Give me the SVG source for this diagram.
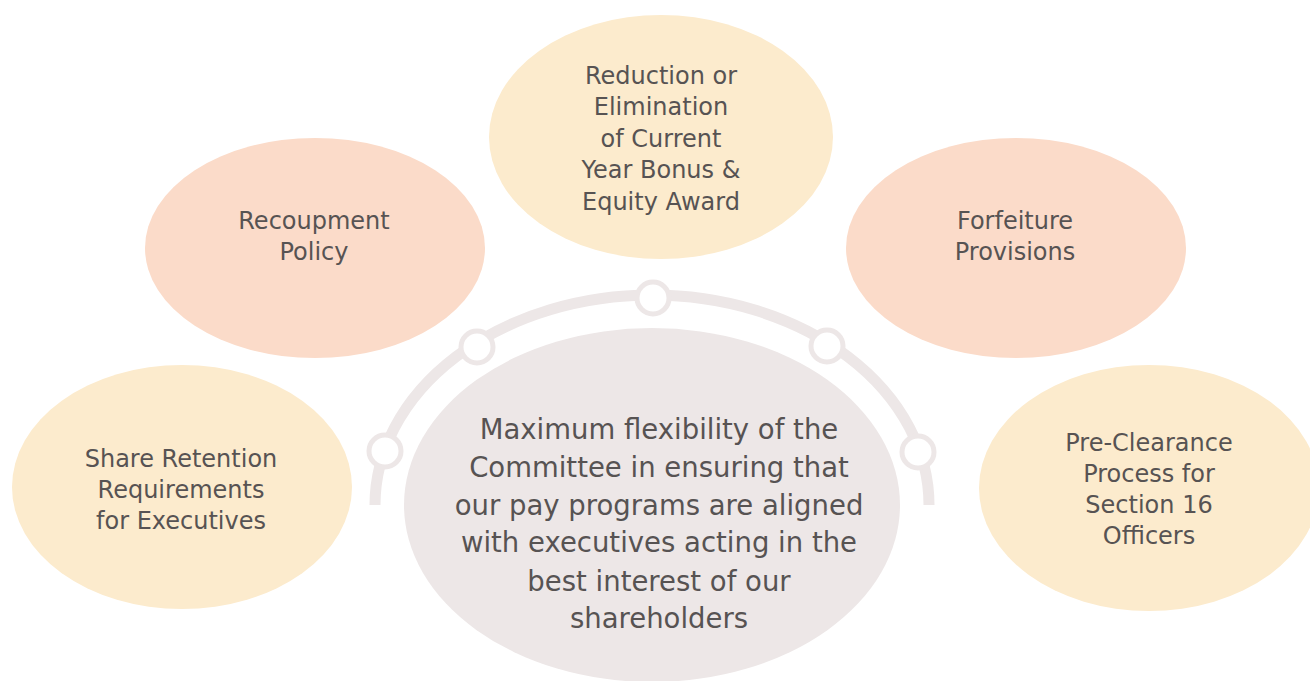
<svg xmlns="http://www.w3.org/2000/svg" width="1310" height="681" viewBox="0 0 1310 681">
<style>
.yellow{fill:#fcebcd}
.peach{fill:#fbdbc9}
.gray{fill:#ede7e7}
.lbl{font-family:"DejaVu Sans",sans-serif;font-size:24px;fill:#575353;text-anchor:middle}
.big{font-size:27.5px}
.ring{fill:#ffffff;stroke:#ede7e7;stroke-width:5}
</style>
<rect width="1310" height="681" fill="#ffffff"/>
<g id="connectors">
<path d="M 375,505 A 277 210 0 0 1 929,505" fill="none" stroke="#ede7e7" stroke-width="11"/>
<circle class="ring" cx="385" cy="451" r="16"/>
<circle class="ring" cx="477" cy="347" r="16"/>
<circle class="ring" cx="653" cy="298" r="16"/>
<circle class="ring" cx="827" cy="346" r="16"/>
<circle class="ring" cx="918" cy="452" r="16"/>
</g>
<g id="node-reduction">
<ellipse class="yellow" cx="661" cy="137" rx="172" ry="122"/>
<text class="lbl"><tspan x="661" y="84">Reduction or</tspan><tspan x="661" y="115">Elimination</tspan><tspan x="661" y="147">of Current</tspan><tspan x="661" y="178">Year Bonus &amp;</tspan><tspan x="661" y="210">Equity Award</tspan></text>
</g>
<g id="node-recoupment">
<ellipse class="peach" cx="315" cy="248" rx="170" ry="110"/>
<text class="lbl"><tspan x="314" y="229">Recoupment</tspan><tspan x="314" y="260">Policy</tspan></text>
</g>
<g id="node-forfeiture">
<ellipse class="peach" cx="1016" cy="248" rx="170" ry="110"/>
<text class="lbl"><tspan x="1015" y="229">Forfeiture</tspan><tspan x="1015" y="260">Provisions</tspan></text>
</g>
<g id="node-share">
<ellipse class="yellow" cx="182" cy="487" rx="170" ry="122"/>
<text class="lbl"><tspan x="181" y="467">Share Retention</tspan><tspan x="181" y="498">Requirements</tspan><tspan x="181" y="529">for Executives</tspan></text>
</g>
<g id="node-preclearance">
<ellipse class="yellow" cx="1149" cy="488" rx="170" ry="123"/>
<text class="lbl"><tspan x="1149" y="451">Pre-Clearance</tspan><tspan x="1149" y="482">Process for</tspan><tspan x="1149" y="513">Section 16</tspan><tspan x="1149" y="544">Officers</tspan></text>
</g>
<g id="node-center">
<ellipse class="gray" cx="652" cy="505" rx="248" ry="177"/>
<text class="lbl big"><tspan x="659" y="439">Maximum flexibility of the</tspan><tspan x="659" y="477">Committee in ensuring that</tspan><tspan x="659" y="515">our pay programs are aligned</tspan><tspan x="659" y="552">with executives acting in the</tspan><tspan x="659" y="591">best interest of our</tspan><tspan x="659" y="628">shareholders</tspan></text>
</g>
</svg>
